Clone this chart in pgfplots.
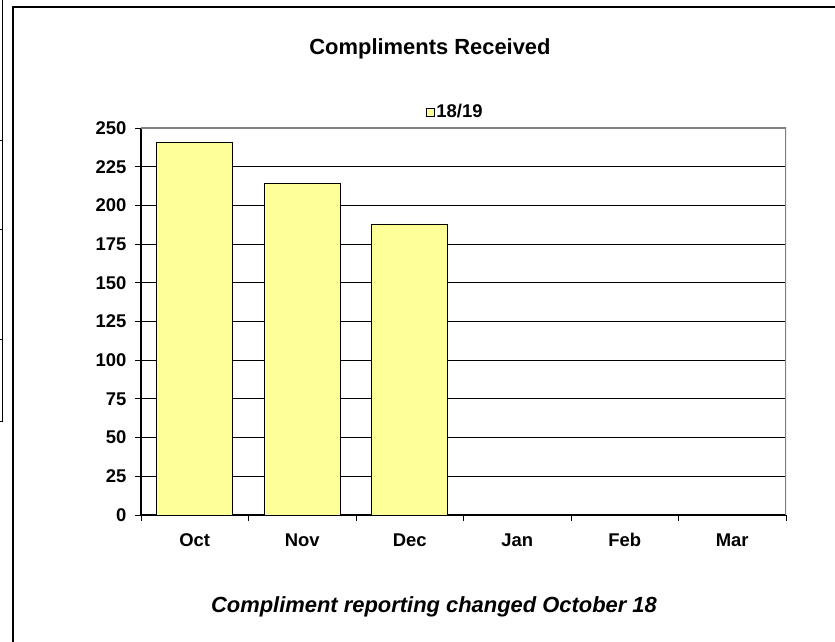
\documentclass[border=0pt]{standalone}
\usepackage{pgfplots}
\pgfplotsset{compat=1.18}
\usepackage{fontspec}
\setmainfont{Liberation Sans}
\definecolor{barfill}{RGB}{255,255,153}
\definecolor{plotgray}{RGB}{128,128,128}
\begin{document}
\begin{tikzpicture}[x=1bp,y=1bp]
\useasboundingbox (0,0) rectangle (835,642);
\fill[white] (0,0) rectangle (835,642);
% outer frame
\draw[line width=2bp] (13,0) -- (13,634.7) -- (835,634.7);
\draw[line width=0.8bp] (2.7,642) -- (2.7,221);
\foreach \yy in {501.3,413,303,221} \draw[line width=0.8bp] (0,\yy) -- (2.7,\yy);
\begin{axis}[
  at={(141bp,127bp)}, anchor=south west,
  scale only axis, width=645bp, height=387bp,
  xmin=-0.5, xmax=5.5, ymin=0, ymax=250,
  ytick={0,25,...,250},
  yticklabel style={xshift=-5bp},
  xtick={-0.5,0.5,...,5.5}, xticklabels={},
  extra x ticks={0,1,2,3,4,5},
  extra x tick labels={Oct,Nov,Dec,Jan,Feb,Mar},
  extra x tick style={major tick length=0pt, xticklabel style={yshift=-15bp}},
  major tick length=6bp,
  tick align=outside,
  tick style={black, line width=0.8bp},
  separate axis lines,
  axis x line*=bottom, axis y line*=left,
  x axis line style={-, line width=2bp, black},
  y axis line style={-, line width=1.5bp, black},
  ymajorgrids,
  grid style={black, line width=0.8bp},
  tick label style={font=\fontsize{18.5}{20}\selectfont\bfseries},
  /pgf/number format/assume math mode=true,
  legend style={at={(0.487,1)}, anchor=center, yshift=16bp, draw=none, fill=none,
    font=\fontsize{18.5}{20}\selectfont\bfseries, inner sep=1bp,
    nodes={inner sep=1.5bp}},
  legend image code/.code={\draw[fill=barfill, draw=black, line width=0.8bp] (0bp,-4bp) rectangle (8bp,4bp);},
]
\addplot[ybar, bar width=76bp, bar shift=0pt, fill=barfill, draw=black, line width=0.8bp]
  coordinates {(0,241) (1,214) (2,188)};
\addlegendentry{18/19}
\draw[plotgray, line width=1.2bp] (rel axis cs:0,1) -- (rel axis cs:1,1) -- (rel axis cs:1,0);
\end{axis}
\node[font=\fontsize{22}{24}\selectfont\bfseries] at (430,593) {Compliments Received};
\node[font=\fontsize{22}{24}\selectfont\bfseries\itshape] at (434,35) {Compliment reporting changed October 18};
\end{tikzpicture}
\end{document}
